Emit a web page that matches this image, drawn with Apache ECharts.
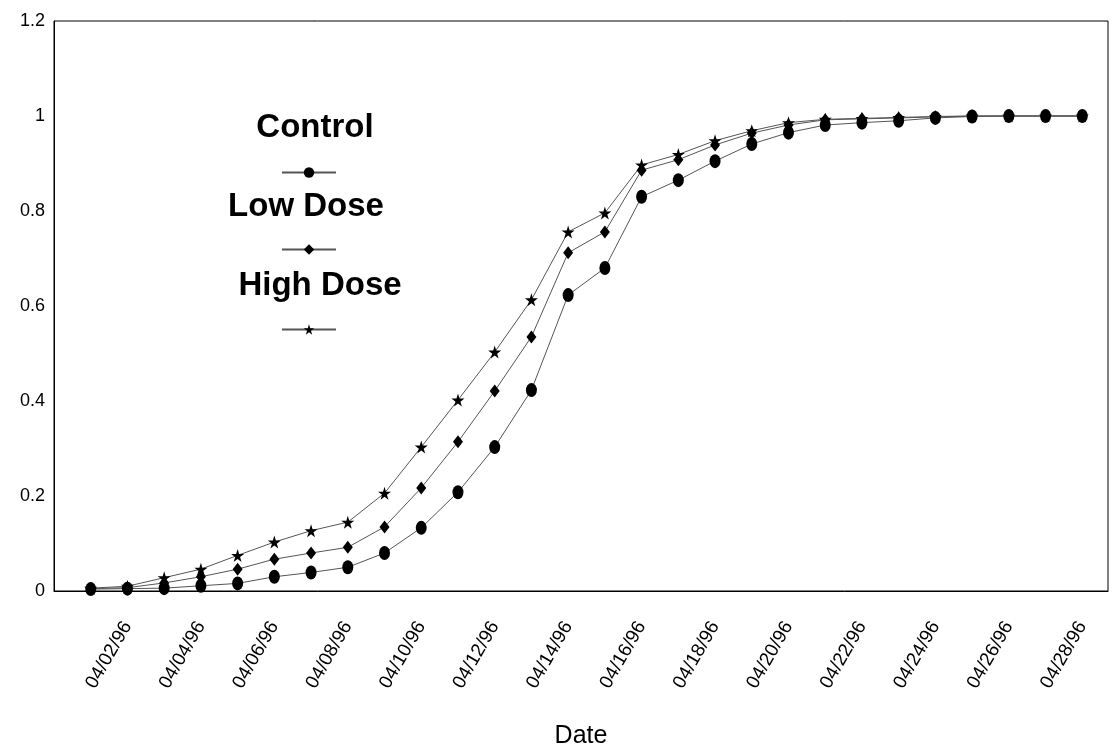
<!DOCTYPE html>
<html><head><meta charset="utf-8">
<script src="https://cdn.jsdelivr.net/npm/echarts/dist/echarts.min.js"></script>
<style>html,body{margin:0;padding:0;background:#fff}#c{width:1116px;height:755px}</style>
</head><body><div id="c"></div>
<script>
const dates = ['04/01/96','04/02/96','04/03/96','04/04/96','04/05/96','04/06/96','04/07/96','04/08/96','04/09/96','04/10/96',
  '04/11/96','04/12/96','04/13/96','04/14/96','04/15/96','04/16/96','04/17/96','04/18/96','04/19/96','04/20/96',
  '04/21/96','04/22/96','04/23/96','04/24/96','04/25/96','04/26/96','04/27/96','04/28/96'];
const control = [0.004,0.005,0.006,0.011,0.016,0.030,0.039,0.050,0.080,0.133,0.208,0.303,0.423,0.623,0.680,0.830,0.865,0.905,0.941,0.965,0.981,0.986,0.990,0.996,0.999,1.0,1.0,1.0];
const lowDose = [0.005,0.007,0.017,0.030,0.046,0.067,0.080,0.092,0.135,0.217,0.314,0.421,0.535,0.712,0.756,0.886,0.908,0.939,0.964,0.981,0.992,0.994,0.996,0.998,1.0,1.0,1.0,1.0];
const highDose = [0.006,0.010,0.028,0.046,0.075,0.103,0.127,0.145,0.206,0.303,0.402,0.503,0.613,0.756,0.796,0.897,0.919,0.948,0.969,0.986,0.993,0.995,0.997,0.999,1.0,1.0,1.0,1.0];
const seriesNames = ['Control','Low Dose','High Dose'];
const yTicks = [0,0.2,0.4,0.6,0.8,1,1.2];

const STAR = 'path://M50,0 L61,35 L98,35 L68,57 L79,91 L50,70 L21,91 L32,57 L2,35 L39,35 Z';
const FONT = 'Liberation Sans, Arial, sans-serif';
const toPts = arr => arr.map((v, i) => [i + 1, v]);

const chart = echarts.init(document.getElementById('c'), null, {renderer: 'canvas'});
const lineStyle = {color: '#555', width: 1};
const mk = (name, data, symbol, size) => ({
  name, type: 'line', data: toPts(data), symbol, symbolSize: size,
  itemStyle: {color: '#000'}, lineStyle, animation: false
});
const legendAt = (name, top) => ({
  data: [name], left: 281, top, padding: 0, itemWidth: 54, itemHeight: 13,
  formatter: () => '', selectedMode: false, textStyle: {fontSize: 1}
});
const legendText = (txt, x, y) => ({type: 'text', x, y,
  style: {text: txt, font: 'bold 33px ' + FONT, fill: '#000', align: 'center', verticalAlign: 'middle'}});
chart.setOption({
  animation: false,
  grid: {left: 54, right: 8, top: 21, bottom: 164, show: true, borderColor: '#000', borderWidth: 1},
  xAxis: {
    type: 'value', min: 0, max: 28.7, interval: 2,
    name: 'Date', nameLocation: 'middle', nameGap: 133,
    nameTextStyle: {fontFamily: FONT, fontSize: 25, color: '#000'},
    axisLine: {show: true, lineStyle: {color: '#000'}},
    axisTick: {show: false}, splitLine: {show: false},
    axisLabel: {
      rotate: 60, margin: 32, fontFamily: FONT, fontSize: 19, color: '#000',
      formatter: v => (Number.isInteger(v) && v >= 1 && v <= dates.length) ? dates[v - 1] : ''
    }
  },
  yAxis: {
    type: 'value', min: yTicks[0], max: yTicks[yTicks.length - 1], interval: 0.2,
    axisLine: {show: true, lineStyle: {color: '#000'}},
    axisTick: {show: false}, splitLine: {show: false},
    axisLabel: {margin: 9, fontFamily: FONT, fontSize: 18, color: '#000',
      formatter: v => String(Math.round(v * 10) / 10)}
  },
  legend: [legendAt(seriesNames[0], 166), legendAt(seriesNames[1], 243), legendAt(seriesNames[2], 323)],
  graphic: [
    legendText(seriesNames[0], 315, 128),
    legendText(seriesNames[1], 306, 207),
    legendText(seriesNames[2], 320, 286)
  ],
  series: [
    mk(seriesNames[2], highDose, STAR, 13),
    mk(seriesNames[1], lowDose, 'diamond', [10, 13]),
    mk(seriesNames[0], control, 'circle', [11, 14])
  ]
});
</script></body></html>
